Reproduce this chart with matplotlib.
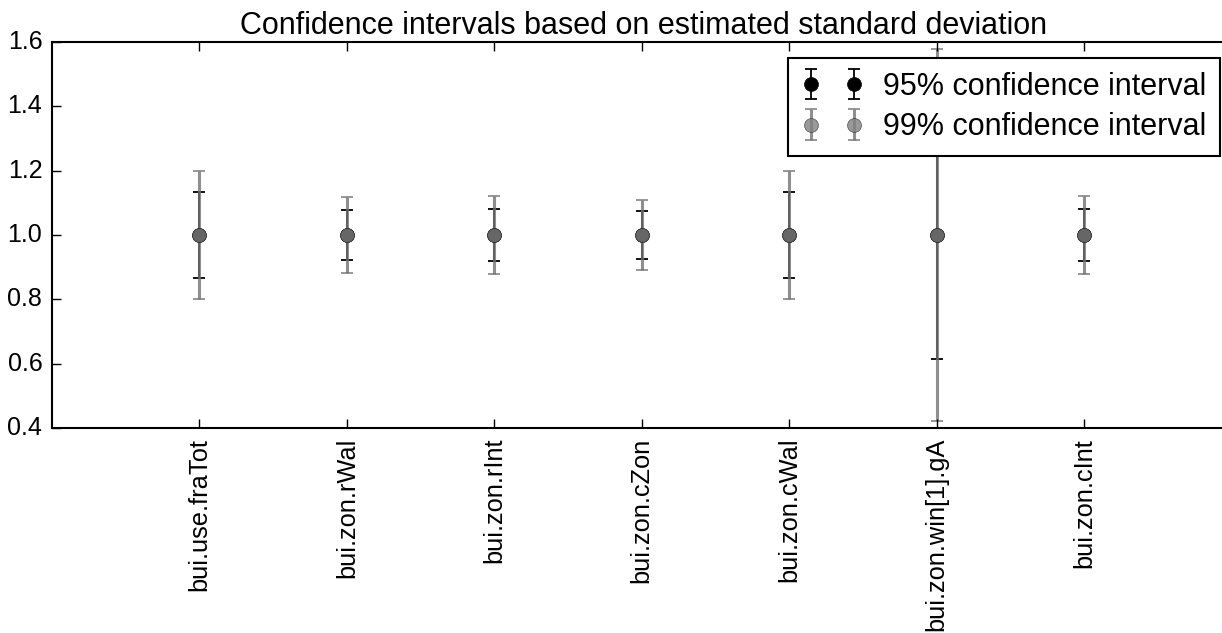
import numpy as np
import matplotlib
matplotlib.use('Agg')
import matplotlib.pyplot as plt

# parameters and their estimated confidence half widths
names = ['bui.use.fraTot', 'bui.zon.rWal', 'bui.zon.rInt', 'bui.zon.cZon',
         'bui.zon.cWal', 'bui.zon.win[1].gA', 'bui.zon.cInt']
means = [1.0, 1.0, 1.0, 1.0, 1.0, 1.0, 1.0]
ci95 = [0.134, 0.077, 0.080, 0.075, 0.134, 0.386, 0.080]
ci99 = [0.198, 0.117, 0.120, 0.110, 0.198, 0.577, 0.120]

plt.style.use('classic')
plt.rcParams['font.family'] = ['Liberation Sans', 'DejaVu Sans']
plt.rcParams['figure.facecolor'] = 'white'
plt.rcParams['savefig.facecolor'] = 'white'

fig = plt.figure(figsize=(12.22, 6.33), dpi=100)
W, H = 1222.0, 633.0
ax = fig.add_axes([52 / W, (H - 428) / H, (1236 - 52) / W, (428 - 42) / H])

x = np.arange(len(names))
ax.errorbar(x, means, yerr=ci95, fmt='o', color='black', ecolor='black',
            markersize=10, capsize=4.5, elinewidth=1.3, capthick=1.3,
            label='95% confidence interval')
ax.errorbar(x, means, yerr=ci99, fmt='o', color='0.5', ecolor='0.45',
            markerfacecolor='0.5', markeredgecolor='0.2', alpha=0.8,
            markersize=10, capsize=4.5, elinewidth=2.2, capthick=1.3,
            label='99% confidence interval')

ax.set_xlim(-1, len(names) + 0.03)
ax.set_ylim(0.4, 1.6)
ax.set_xticks(x)
ax.set_xticklabels(names, rotation=90, fontsize=18.3)
ax.tick_params(axis='y', labelsize=18, pad=7, right=False)
ax.tick_params(axis='x', pad=7)
ax.tick_params(length=6.5, width=1)
for s in ax.spines.values():
    s.set_linewidth(1.5)
ax.set_title('Confidence intervals based on estimated standard deviation',
             fontsize=22, pad=6)
leg = ax.legend(loc='upper right', numpoints=2, fontsize=22,
                borderaxespad=0.52, borderpad=0.45, handletextpad=0.65,
                labelspacing=0.35)
leg.get_frame().set_linewidth(1.5)

fig.savefig('out.png', dpi=100)
